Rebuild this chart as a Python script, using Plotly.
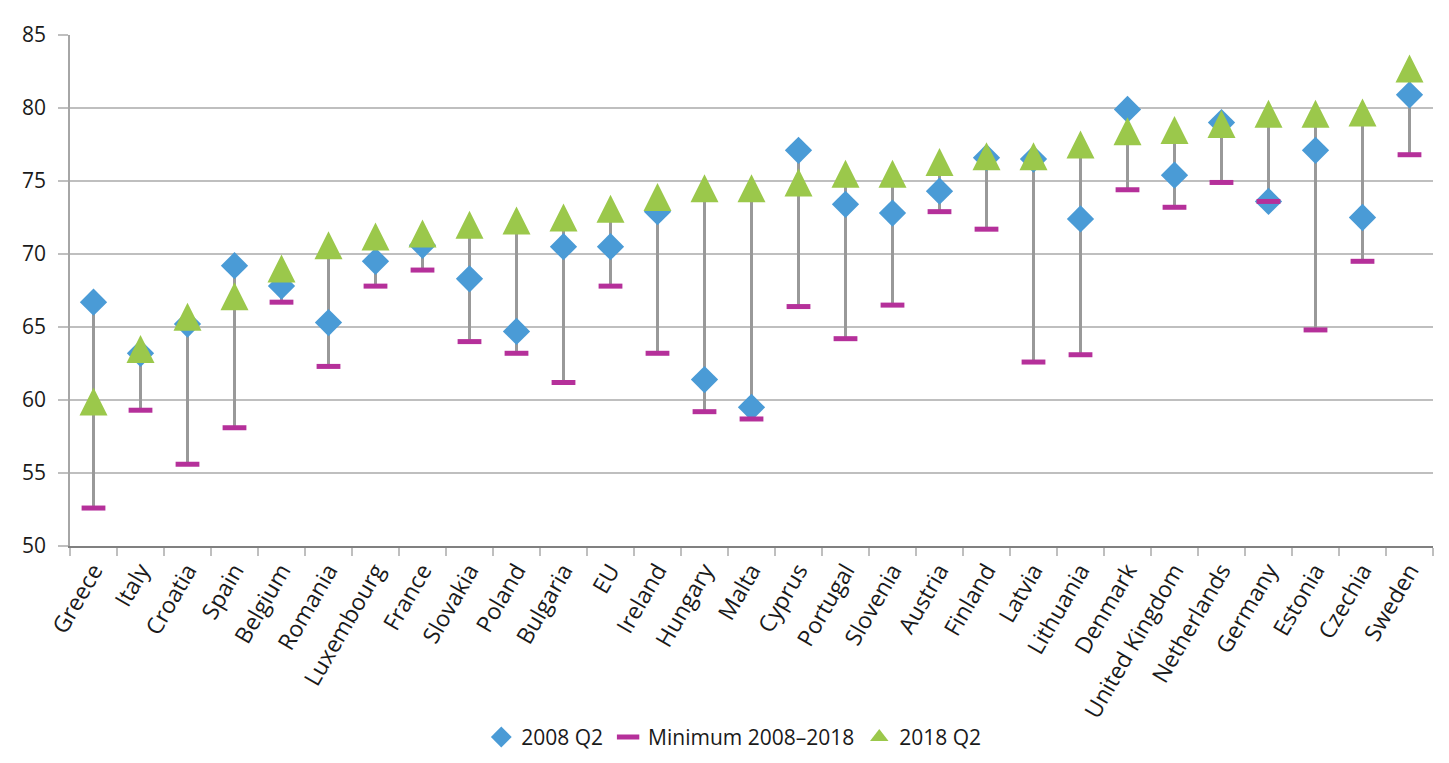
import plotly.graph_objects as go

countries = ["Greece", "Italy", "Croatia", "Spain", "Belgium", "Romania", "Luxembourg",
             "France", "Slovakia", "Poland", "Bulgaria", "EU", "Ireland", "Hungary", "Malta",
             "Cyprus", "Portugal", "Slovenia", "Austria", "Finland", "Latvia", "Lithuania",
             "Denmark", "United Kingdom", "Netherlands", "Germany", "Estonia", "Czechia", "Sweden"]

q2_2008 = [66.7, 63.2, 65.2, 69.2, 67.8, 65.3, 69.5, 70.6, 68.3, 64.7, 70.5, 70.5, 72.9, 61.4, 59.5,
           77.1, 73.4, 72.8, 74.3, 76.6, 76.5, 72.4, 79.9, 75.4, 79.0, 73.6, 77.1, 72.5, 80.9]

minimum = [52.6, 59.3, 55.6, 58.1, 66.7, 62.3, 67.8, 68.9, 64.0, 63.2, 61.2, 67.8, 63.2, 59.2, 58.7,
           66.4, 64.2, 66.5, 72.9, 71.7, 62.6, 63.1, 74.4, 73.2, 74.9, 73.6, 64.8, 69.5, 76.8]

q2_2018 = [59.9, 63.5, 65.7, 67.1, 69.0, 70.6, 71.2, 71.4, 72.0, 72.3, 72.5, 73.1, 73.9, 74.5, 74.5,
           74.9, 75.5, 75.5, 76.3, 76.7, 76.7, 77.5, 78.4, 78.5, 78.9, 79.6, 79.6, 79.7, 82.7]

y_ticks = [50, 55, 60, 65, 70, 75, 80, 85]

FONT = "Open Sans"
TXT = "#1a1a1a"
BLUE, MAGENTA, GREEN, GREY = "#4A9BD6", "#B5309A", "#9BC84B", "#999999"

# high-low lines built from the data
hl_x, hl_y = [], []
for c, a, m, b in zip(countries, q2_2008, minimum, q2_2018):
    hl_x += [c, c, None]
    hl_y += [min(a, m, b), max(a, m, b), None]

TRI = 28

fig = go.Figure()
fig.add_trace(go.Scatter(x=hl_x, y=hl_y, mode="lines",
                         line=dict(color=GREY, width=3),
                         showlegend=False, hoverinfo="skip"))
fig.add_trace(go.Scatter(x=countries, y=q2_2008, mode="markers", name="2008 Q2",
                         marker=dict(symbol="diamond", size=21, color=BLUE,
                                     line=dict(width=0))))
fig.add_trace(go.Scatter(x=countries, y=minimum, mode="markers", name="Minimum 2008\u20132018",
                         marker=dict(symbol="line-ew", size=17,
                                     line=dict(color=MAGENTA, width=5))))
fig.add_trace(go.Scatter(x=countries, y=q2_2018, mode="markers", name="2018 Q2",
                         legendgroup="g18", showlegend=False,
                         marker=dict(symbol="arrow-down", angle=180, standoff=TRI / 2,
                                     size=TRI, color=GREEN,
                                     line=dict(width=0))))
# legend entry for the 2018 series (no data points)
fig.add_trace(go.Scatter(x=[None], y=[None], mode="markers", name="2018 Q2",
                         legendgroup="g18", showlegend=True,
                         marker=dict(symbol="triangle-up", size=18, color=GREEN,
                                     line=dict(width=0))))

fig.update_layout(
    width=1441, height=755,
    margin=dict(l=62, r=16, t=27, b=217, autoexpand=False),
    plot_bgcolor="white", paper_bgcolor="white",
    font=dict(family=FONT, size=21, color=TXT),
    legend=dict(orientation="h", x=0.487, xanchor="center",
                yref="container", y=0.034, yanchor="middle",
                traceorder="normal", font=dict(size=21, color=TXT)),
    showlegend=True,
)

fig.update_xaxes(type="category", categoryorder="array", categoryarray=countries,
                 range=[-0.5, len(countries) - 0.5],
                 tickangle=-60, tickson="boundaries", ticks="outside", ticklen=8,
                 tickcolor="#bfbfbf", tickwidth=1.5,
                 showline=True, linecolor="#808080", linewidth=2,
                 showgrid=False, tickfont=dict(size=23, color=TXT))
fig.update_yaxes(range=[50, 85], tickvals=y_ticks, ticks="outside", ticklen=10,
                 tickcolor="#bfbfbf", tickwidth=1.5, ticklabelstandoff=8,
                 showline=True, linecolor="#a6a6a6", linewidth=1.5,
                 showgrid=True, gridcolor="#bfbfbf", gridwidth=1.5,
                 zeroline=False, tickfont=dict(size=21, color=TXT))

fig.write_html("out.html")
